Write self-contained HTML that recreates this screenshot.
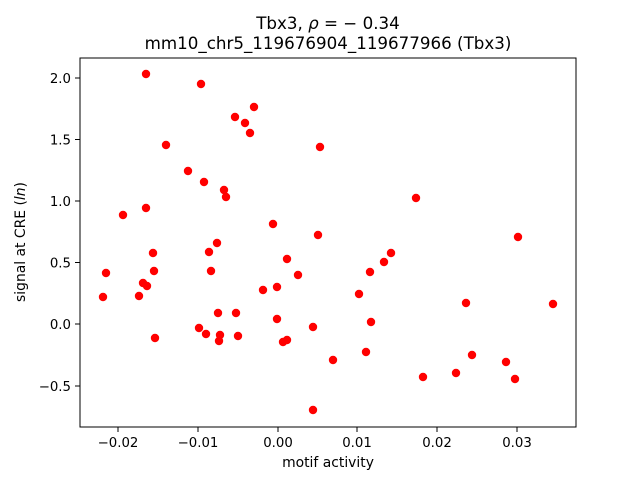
<!DOCTYPE html>
<html><head><style>
body{margin:0;background:#fff;}
svg text{font-family:"DejaVu Sans","Liberation Sans",sans-serif;fill:#000;}
</style></head><body>
<svg width="640" height="480" xmlns="http://www.w3.org/2000/svg">
<rect width="640" height="480" fill="#fff"/>
<text x="328" y="29" font-size="16.7" text-anchor="middle">Tbx3, <tspan font-style="italic">ρ</tspan> = − 0.34</text>
<text x="328" y="49" font-size="16.7" text-anchor="middle">mm10_chr5_119676904_119677966 (Tbx3)</text>
<g fill="#ff0000">
<circle cx="146" cy="74" r="4.2"/><circle cx="201" cy="84" r="4.2"/><circle cx="254" cy="107" r="4.2"/>
<circle cx="235" cy="117" r="4.2"/><circle cx="245" cy="123" r="4.2"/><circle cx="250" cy="133" r="4.2"/>
<circle cx="166" cy="145" r="4.2"/><circle cx="320" cy="147" r="4.2"/><circle cx="188" cy="171" r="4.2"/>
<circle cx="204" cy="182" r="4.2"/><circle cx="224" cy="190" r="4.2"/><circle cx="226" cy="197" r="4.2"/>
<circle cx="123" cy="215" r="4.2"/><circle cx="146" cy="208" r="4.2"/><circle cx="416" cy="198" r="4.2"/>
<circle cx="273" cy="224" r="4.2"/><circle cx="318" cy="235" r="4.2"/><circle cx="217" cy="243" r="4.2"/>
<circle cx="153" cy="253" r="4.2"/><circle cx="209" cy="252" r="4.2"/><circle cx="106" cy="273" r="4.2"/>
<circle cx="287" cy="259" r="4.2"/><circle cx="391" cy="253" r="4.2"/><circle cx="298" cy="275" r="4.2"/>
<circle cx="154" cy="271" r="4.2"/><circle cx="211" cy="271" r="4.2"/><circle cx="370" cy="272" r="4.2"/>
<circle cx="384" cy="262" r="4.2"/><circle cx="263" cy="290" r="4.2"/><circle cx="277" cy="287" r="4.2"/>
<circle cx="143" cy="283" r="4.2"/><circle cx="147" cy="286" r="4.2"/><circle cx="139" cy="296" r="4.2"/>
<circle cx="359" cy="294" r="4.2"/><circle cx="103" cy="297" r="4.2"/><circle cx="466" cy="303" r="4.2"/>
<circle cx="553" cy="304" r="4.2"/><circle cx="236" cy="313" r="4.2"/><circle cx="218" cy="313" r="4.2"/>
<circle cx="371" cy="322" r="4.2"/><circle cx="277" cy="319" r="4.2"/><circle cx="313" cy="327" r="4.2"/>
<circle cx="199" cy="328" r="4.2"/><circle cx="206" cy="334" r="4.2"/><circle cx="220" cy="335" r="4.2"/>
<circle cx="238" cy="336" r="4.2"/><circle cx="155" cy="338" r="4.2"/><circle cx="219" cy="341" r="4.2"/>
<circle cx="287" cy="340" r="4.2"/><circle cx="283" cy="342" r="4.2"/><circle cx="366" cy="352" r="4.2"/>
<circle cx="333" cy="360" r="4.2"/><circle cx="472" cy="355" r="4.2"/><circle cx="506" cy="362" r="4.2"/>
<circle cx="456" cy="373" r="4.2"/><circle cx="423" cy="377" r="4.2"/><circle cx="515" cy="379" r="4.2"/>
<circle cx="313" cy="410" r="4.2"/><circle cx="518" cy="237" r="4.2"/>
</g>
<rect x="80" y="58" width="496" height="369" fill="none" stroke="#000" stroke-width="1"/>
<g stroke="#000" stroke-width="1">
<line x1="118" y1="427" x2="118" y2="432"/><line x1="198" y1="427" x2="198" y2="432"/>
<line x1="278" y1="427" x2="278" y2="432"/><line x1="357" y1="427" x2="357" y2="432"/>
<line x1="437" y1="427" x2="437" y2="432"/><line x1="517" y1="427" x2="517" y2="432"/>
<line x1="75" y1="78" x2="80" y2="78"/><line x1="75" y1="139.5" x2="80" y2="139.5"/>
<line x1="75" y1="201" x2="80" y2="201"/><line x1="75" y1="262.5" x2="80" y2="262.5"/>
<line x1="75" y1="324" x2="80" y2="324"/><line x1="75" y1="386" x2="80" y2="386"/>
</g>
<g font-size="13.3" text-anchor="middle">
<text x="118" y="447">−0.02</text><text x="198" y="447">−0.01</text><text x="278" y="447">0.00</text>
<text x="357" y="447">0.01</text><text x="437" y="447">0.02</text><text x="517" y="447">0.03</text>
</g>
<g font-size="13.3" text-anchor="end">
<text x="71" y="83">2.0</text><text x="71" y="144.5">1.5</text><text x="71" y="206">1.0</text>
<text x="71" y="267.5">0.5</text><text x="71" y="329">0.0</text><text x="71" y="391">−0.5</text>
</g>
<text x="328" y="467" font-size="13.9" text-anchor="middle">motif activity</text>
<text transform="translate(25,242) rotate(-90)" font-size="13.9" text-anchor="middle">signal at CRE (<tspan font-style="italic">ln</tspan>)</text>
</svg>
</body></html>
